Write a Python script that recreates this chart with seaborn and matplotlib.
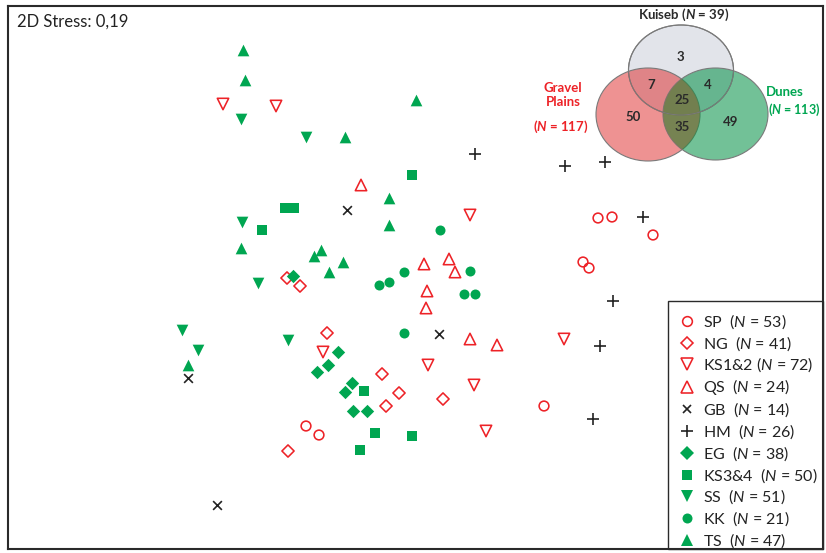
import matplotlib
matplotlib.use("Agg")
import matplotlib.pyplot as plt
from matplotlib.patches import Ellipse, Rectangle
from matplotlib.lines import Line2D
import pandas as pd
import seaborn as sns

# ---- NMDS scores (axis 1, axis 2) for each sampling group ----
sp_x = [1.83, 1.97, 2.38, 1.68, 1.74, 1.29, -1.09, -0.96]
sp_y = [0.62, 0.63, 0.45, 0.18, 0.12, -1.26, -1.46, -1.55]
ng_x = [-1.28, -1.15, -0.88, -0.33, -0.16, 0.28, -0.29, -1.27]
ng_y = [0.02, -0.06, -0.53, -0.94, -1.13, -1.19, -1.26, -1.71]
ks12_x = [-1.92, -1.39, 0.55, 1.49, -0.92, 0.13, 0.59, 0.71]
ks12_y = [1.76, 1.74, 0.65, -0.59, -0.72, -0.85, -1.05, -1.51]
qs_x = [-0.54, 0.09, 0.34, 0.40, 0.12, 0.11, 0.55, 0.82]
qs_y = [0.95, 0.16, 0.21, 0.08, -0.11, -0.28, -0.59, -0.65]
gb_x = [-0.68, 0.24, -2.27, -1.98]
gb_y = [0.70, -0.54, -0.98, -2.25]
hm_x = [0.60, 1.50, 1.90, 2.28, 1.98, 1.85, 1.78]
hm_y = [1.26, 1.14, 1.18, 0.63, -0.21, -0.66, -1.39]
eg_x = [-1.22, -0.77, -0.87, -0.98, -0.63, -0.70, -0.62, -0.48]
eg_y = [0.04, -0.72, -0.85, -0.92, -1.03, -1.12, -1.31, -1.31]
ks34_x = [-0.03, -1.30, -1.21, -1.53, -0.51, -0.40, -0.03, -0.55]
ks34_y = [1.05, 0.72, 0.72, 0.50, -1.11, -1.53, -1.56, -1.70]
ss_x = [-1.74, -1.09, -1.73, -1.57, -2.33, -1.27, -2.17]
ss_y = [1.61, 1.43, 0.58, -0.03, -0.50, -0.60, -0.70]
kk_x = [0.25, 0.55, -0.11, -0.26, -0.36, 0.49, 0.60, -0.11]
kk_y = [0.50, 0.09, 0.08, -0.02, -0.05, -0.14, -0.14, -0.53]
ts_x = [-1.72, -1.70, -0.70, 0.01, -0.26, -0.26, -1.74, -0.94, -1.01, -0.72, -0.86, -2.27]
ts_y = [2.30, 2.00, 1.43, 1.80, 0.82, 0.55, 0.32, 0.30, 0.24, 0.18, 0.08, -0.85]

group_names = ["SP", "NG", "KS1&2", "QS", "GB", "HM", "EG", "KS3&4", "SS", "KK", "TS"]
group_n = [53, 41, 72, 24, 14, 26, 38, 50, 51, 21, 47]
stress = 0.19

# Venn counts: exclusive and shared taxa among the three habitats
venn_sets = ["Kuiseb", "Gravel\nPlains", "Dunes"]
venn_totals = [39, 117, 113]
only_kuiseb, only_gravel, only_dunes = 3, 50, 49
kuiseb_gravel, kuiseb_dunes, gravel_dunes, all_three = 7, 4, 35, 25

xs = [sp_x, ng_x, ks12_x, qs_x, gb_x, hm_x, eg_x, ks34_x, ss_x, kk_x, ts_x]
ys = [sp_y, ng_y, ks12_y, qs_y, gb_y, hm_y, eg_y, ks34_y, ss_y, kk_y, ts_y]
df = pd.concat(
    [pd.DataFrame({"NMDS1": x, "NMDS2": y, "group": g}) for x, y, g in zip(xs, ys, group_names)],
    ignore_index=True,
)

RED = "#ED2227"
GREEN = "#00A651"
BLACK = "#222222"

# marker, marker size (pt), face, edge, line width
style = {
    "SP": ("o", 7.0, "none", RED, 1.15),
    "NG": ("D", 6.2, "none", RED, 1.15),
    "KS1&2": ("v", 8.2, "none", RED, 1.15),
    "QS": ("^", 8.2, "none", RED, 1.15),
    "GB": ("x", 6.3, BLACK, BLACK, 1.2),
    "HM": ("+", 8.5, BLACK, BLACK, 1.2),
    "EG": ("D", 6.8, GREEN, GREEN, 0),
    "KS3&4": ("s", 6.9, GREEN, GREEN, 0),
    "SS": ("v", 8.4, GREEN, GREEN, 0),
    "KK": ("o", 7.2, GREEN, GREEN, 0),
    "TS": ("^", 8.4, GREEN, GREEN, 0),
}

sns.set_theme(style="white")
plt.rcParams["font.family"] = ["Lato", "DejaVu Sans"]
plt.rcParams["mathtext.fontset"] = "custom"
plt.rcParams["mathtext.rm"] = "Lato"
plt.rcParams["mathtext.it"] = "Lato:italic"
plt.rcParams["mathtext.bf"] = "Lato:bold"
plt.rcParams["mathtext.bfit"] = "Lato:italic:bold"

W, H = 826, 553
fig = plt.figure(figsize=(W / 100, H / 100), dpi=100)
ax = fig.add_axes([8 / W, 4 / H, 815 / W, 543 / H])

for g in group_names:
    m, ms, fc, ec, lw = style[g]
    sub = df[df["group"] == g]
    if m in ("x", "+"):
        sns.scatterplot(data=sub, x="NMDS1", y="NMDS2", marker=m, s=ms ** 2,
                        color=ec, linewidth=lw, ax=ax, zorder=3)
    else:
        sns.scatterplot(data=sub, x="NMDS1", y="NMDS2", marker=m, s=ms ** 2,
                        color=ec, facecolor=fc, edgecolor=ec, linewidth=lw,
                        ax=ax, zorder=3)

ax.set_xlim(-4.07, 4.08)
ax.set_ylim(-2.69, 2.74)
ax.set_xticks([])
ax.set_yticks([])
ax.set_xlabel("")
ax.set_ylabel("")
for sp in ax.spines.values():
    sp.set_visible(True)
    sp.set_color("#2a2a2a")
    sp.set_linewidth(1.5)

ax.text(0.011, 0.972, f"2D Stress: {stress:.2f}".replace(".", ","),
        transform=ax.transAxes, ha="left", va="center", fontsize=12, color="#222222")

# legend
handles, labels = [], []
for g, n in zip(group_names, group_n):
    m, ms, fc, ec, lw = style[g]
    h = Line2D([], [], linestyle="none", marker=m, markersize=ms,
               markerfacecolor=fc, markeredgecolor=ec,
               markeredgewidth=lw if lw > 0 else 0)
    handles.append(h)
    sep = " " if g == "KS1&2" else "  "
    labels.append(f"{g}{sep}($\\mathit{{N}}$ = {n})")

leg = ax.legend(handles, labels, loc="center left",
                bbox_to_anchor=(679 / W, 1 - 431 / H), bbox_transform=fig.transFigure,
                frameon=False, fontsize=11.5, handlelength=1.0, handletextpad=0.5,
                labelspacing=0.2, borderpad=0, borderaxespad=0)
for t in leg.get_texts():
    t.set_color("#222222")

# overlay in pixel units for the Venn diagram and legend box
ov = fig.add_axes([0, 0, 1, 1], zorder=5)
ov.set_xlim(0, W)
ov.set_ylim(H, 0)
ov.axis("off")
ov.add_patch(Rectangle((668, 301), 823 - 668, 549 - 301, facecolor="none",
                       edgecolor="#2a2a2a", linewidth=1.0))

kuiseb = Ellipse((681, 70), 105, 90, facecolor="#E2E4EA", edgecolor="#7a7a7a", lw=0.8)
gravel = Ellipse((648, 114.5), 104, 93, facecolor=(0.87, 0.15, 0.15, 0.5),
                 edgecolor="#7a7a7a", lw=0.8)
dunes = Ellipse((715.5, 114), 105, 92, facecolor=(0.05, 0.58, 0.30, 0.58),
                edgecolor="#7a7a7a", lw=0.8)
ov.add_patch(kuiseb)
ov.add_patch(gravel)
ov.add_patch(dunes)
lens = Ellipse((715.5, 114), 105, 92, facecolor=(0.55, 0.40, 0.15, 0.35), edgecolor="none")
ov.add_patch(lens)
lens.set_clip_path(Ellipse((648, 114.5), 104, 93, transform=ov.transData))
kuiseb_edge = Ellipse((681, 70), 105, 90, facecolor="none", edgecolor="#7a7a7a", lw=0.8)
ov.add_patch(kuiseb_edge)

num_kw = dict(ha="center", va="center", fontsize=9.5, fontweight="bold", color="#2a2a2a")
ov.text(680, 57, str(only_kuiseb), **num_kw)
ov.text(651, 85, str(kuiseb_gravel), **num_kw)
ov.text(708, 85, str(kuiseb_dunes), **num_kw)
ov.text(682, 100, str(all_three), **num_kw)
ov.text(633, 117, str(only_gravel), **num_kw)
ov.text(682, 127, str(gravel_dunes), **num_kw)
ov.text(731, 122, str(only_dunes), **num_kw)

ov.text(684, 15, f"{venn_sets[0]} ($\\mathbfit{{N}}$ = {venn_totals[0]})", ha="center", va="center",
        fontsize=9.5, fontweight="bold", color="#2a2a2a")
ov.text(563, 95, venn_sets[1], ha="center", va="center", fontsize=9.5,
        fontweight="bold", color=RED, linespacing=1.25)
ov.text(561, 127, f"($\\mathbfit{{N}}$ = {venn_totals[1]})", ha="center", va="center",
        fontsize=9.5, fontweight="bold", color=RED)
ov.text(766, 92, venn_sets[2], ha="left", va="center", fontsize=9.5,
        fontweight="bold", color=GREEN)
ov.text(768, 110, f"($\\mathbfit{{N}}$ = {venn_totals[2]})", ha="left", va="center",
        fontsize=9.0, fontweight="bold", color=GREEN)

fig.savefig("out.png", dpi=100)
